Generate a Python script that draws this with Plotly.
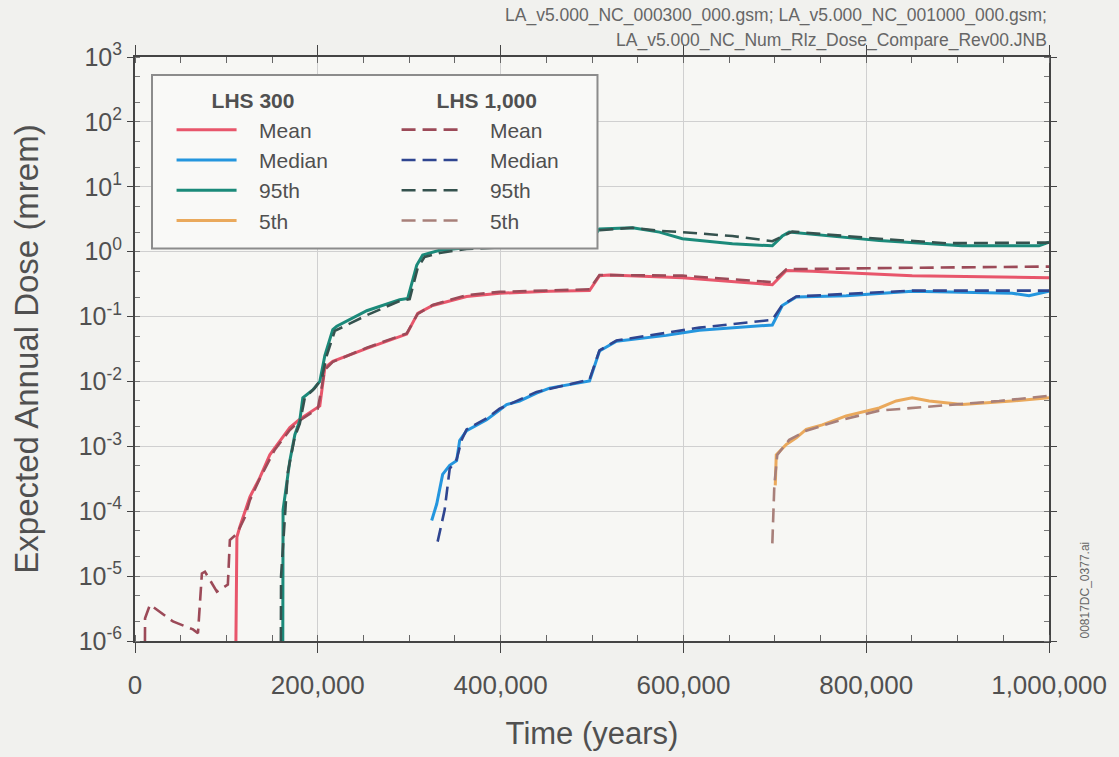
import plotly.graph_objects as go

# ---------------- data ----------------
t_mean_300 = [110400, 111500, 114800, 125700, 136600, 147500, 153000, 169400, 180300, 200000, 202200,
              207700, 216400, 253600, 297300, 309300, 325700, 362800, 398900, 453600, 497300, 508200,
              519100, 598900, 697300, 712600, 741000, 850300, 1000000]
v_mean_300 = [1e-6, 4.0e-5, 5.8e-5, 1.66e-4, 3.3e-4, 7.4e-4, 9.5e-4, 1.95e-3, 2.63e-3, 3.98e-3, 4.2e-3,
              0.0162, 0.0204, 0.0324, 0.0537, 0.112, 0.148, 0.204, 0.229, 0.245, 0.251, 0.427,
              0.437, 0.398, 0.309, 0.513, 0.50, 0.427, 0.398]

t_median_300 = [324600, 330100, 336600, 344300, 351900, 355200, 362800, 373800, 384700, 398900, 406600,
                420800, 439300, 453600, 497300, 508200, 526800, 581400, 617500, 697300, 708200, 723500,
                778100, 850300, 959600, 978100, 1000000]
v_median_300 = [7.2e-5, 1.29e-4, 3.7e-4, 5.1e-4, 6.0e-4, 1.23e-3, 1.74e-3, 2.14e-3, 2.57e-3, 3.63e-3, 4.4e-3,
                5.0e-3, 6.6e-3, 7.9e-3, 0.0102, 0.0295, 0.0417, 0.0513, 0.0617, 0.0741, 0.148, 0.20,
                0.209, 0.245, 0.229, 0.209, 0.245]

t_p95_300 = [161700, 162000, 169400, 174900, 180300, 183600, 194500, 202200, 207700, 216400, 220800,
             253600, 289600, 298400, 308200, 314800, 333300, 362800, 497300, 508200, 544300, 573800,
             598900, 653600, 697300, 708200, 715800, 741000, 814200, 904900, 989100, 1000000]
v_p95_300 = [1e-6, 1.05e-4, 6.0e-4, 1.51e-3, 2.5e-3, 5.6e-3, 7.4e-3, 0.010, 0.025, 0.063, 0.0708,
             0.123, 0.182, 0.19, 0.617, 0.89, 1.05, 1.15, 1.38, 2.24, 2.34, 2.0,
             1.58, 1.32, 1.23, 1.74, 2.0, 1.86, 1.48, 1.23, 1.23, 1.40]

t_p5_300 = [700500, 701600, 712600, 723500, 734400, 751900, 778100, 814200, 832800, 850300, 868900,
            904900, 959600, 1000000]
v_p5_300 = [2.5e-4, 7.4e-4, 1.07e-3, 1.35e-3, 1.82e-3, 2.14e-3, 2.95e-3, 3.9e-3, 5.0e-3, 5.6e-3, 5.0e-3,
            4.4e-3, 5.0e-3, 5.6e-3]

t_mean_1000 = [10900, 11000, 16400, 30600, 41500, 63400, 68900, 73200, 76500, 89600, 101600, 103800,
               111500, 120200, 125700, 136600, 153000, 169400, 180300, 200000, 207700, 216400, 253600,
               297300, 309300, 325700, 362800, 398900, 497300, 508200, 598900, 697300, 712600, 836000,
               1000000]
v_mean_1000 = [1e-6, 2.24e-6, 3.63e-6, 2.57e-6, 2.0e-6, 1.51e-6, 1.32e-6, 1.10e-5, 1.17e-5, 5.75e-6, 7.4e-6, 3.6e-5,
               4.5e-5, 8.1e-5, 1.48e-4, 3.2e-4, 8.9e-4, 1.78e-3, 2.5e-3, 3.8e-3, 0.0151, 0.020, 0.0331,
               0.055, 0.110, 0.151, 0.214, 0.24, 0.263, 0.437, 0.427, 0.339, 0.537, 0.562,
               0.589]

t_median_1000 = [331100, 338800, 344300, 351900, 357400, 362800, 384700, 398900, 439300, 497300, 508200,
                 526800, 617500, 697300, 708200, 723500, 850300, 1000000]
v_median_1000 = [3.4e-5, 1.05e-4, 4.5e-4, 6.3e-4, 1.26e-3, 1.82e-3, 2.7e-3, 3.8e-3, 6.9e-3, 0.0107, 0.030,
                 0.0427, 0.0676, 0.089, 0.151, 0.204, 0.251, 0.251]

t_p95_1000 = [159600, 159800, 167200, 174900, 180300, 185800, 196700, 204400, 209800, 218600, 253600,
              289600, 300500, 309300, 316900, 333300, 362800, 497300, 508200, 544300, 573800, 598900,
              653600, 697300, 719100, 814200, 887400, 1000000]
v_p95_1000 = [1e-6, 1.0e-5, 4.0e-4, 1.41e-3, 2.24e-3, 5.6e-3, 7.9e-3, 0.0112, 0.025, 0.060, 0.105,
              0.174, 0.186, 0.562, 0.83, 0.955, 1.10, 1.32, 2.14, 2.34, 2.09, 2.0,
              1.74, 1.45, 2.04, 1.58, 1.35, 1.38]

t_p5_1000 = [697300, 699500, 702700, 715800, 734400, 770500, 814200, 887400, 945400, 1000000]
v_p5_1000 = [3.2e-5, 2.5e-4, 7.4e-4, 1.26e-3, 1.74e-3, 2.5e-3, 3.55e-3, 4.3e-3, 5.0e-3, 6.0e-3]

stat_names = ["Mean", "Median", "95th", "5th"]
group_names = ["LHS 300", "LHS 1,000"]
y_tick_vals = [1e-6, 1e-5, 1e-4, 1e-3, 1e-2, 1e-1, 1e0, 1e1, 1e2, 1e3]
y_tick_text = ["10<sup>-6</sup>", "10<sup>-5</sup>", "10<sup>-4</sup>", "10<sup>-3</sup>", "10<sup>-2</sup>",
               "10<sup>-1</sup>", "10<sup>0</sup>", "10<sup>1</sup>", "10<sup>2</sup>", "10<sup>3</sup>"]
x_tick_vals = [0, 200000, 400000, 600000, 800000, 1000000]
x_tick_text = ["0", "200,000", "400,000", "600,000", "800,000", "1,000,000"]

# ---------------- styling ----------------
FONT = "Liberation Sans, Arial, sans-serif"
TXT = "#505050"
NB = "\u00a0"
colors_300 = ["#e8566b", "#2496de", "#1b8a7a", "#eaa95c"]
colors_1000 = ["#9c4a58", "#2f4590", "#35524e", "#a8807a"]

series_300 = [(t_mean_300, v_mean_300), (t_median_300, v_median_300), (t_p95_300, v_p95_300), (t_p5_300, v_p5_300)]
series_1000 = [(t_mean_1000, v_mean_1000), (t_median_1000, v_median_1000), (t_p95_1000, v_p95_1000), (t_p5_1000, v_p5_1000)]

LEG_FS = 21
fig = go.Figure()
for i, (t, v) in enumerate(series_300):
    fig.add_trace(go.Scatter(
        x=t, y=v, mode="lines", name=NB * 3 + stat_names[i],
        line=dict(color=colors_300[i], width=3),
        legendgroup="g300",
        legendgrouptitle=dict(text=NB * 6 + "<b>" + group_names[0] + "</b>",
                              font=dict(size=LEG_FS, color=TXT, family=FONT)),
    ))
for i, (t, v) in enumerate(series_1000):
    fig.add_trace(go.Scatter(
        x=t, y=v, mode="lines", name=NB * 4 + stat_names[i],
        line=dict(color=colors_1000[i], width=2.6, dash="14px,7px"),
        legendgroup="g1000",
        legendgrouptitle=dict(text=NB * 6 + "<b>" + group_names[1] + "</b>",
                              font=dict(size=LEG_FS, color=TXT, family=FONT)),
    ))

fig.update_layout(
    width=1119, height=757,
    margin=dict(l=135, r=69, t=57, b=112),
    paper_bgcolor="#f1f1ee",
    plot_bgcolor="#f7f7f4",
    font=dict(family=FONT, color=TXT, size=20),
    legend=dict(
        orientation="h", traceorder="grouped",
        x=0.04, y=0.962, xanchor="left", yanchor="top",
        bgcolor="rgba(0,0,0,0)", borderwidth=0,
        font=dict(size=LEG_FS, color=TXT, family=FONT),
        itemwidth=60, entrywidth=150,
    ),
    xaxis=dict(
        range=[0, 1000000], tickvals=x_tick_vals, ticktext=x_tick_text,
        showgrid=True, gridcolor="#d0d0d0", gridwidth=1, zeroline=False,
        showline=True, linecolor="#444444", linewidth=2, mirror="ticks",
        ticks="outside", ticklen=10, tickcolor="#444444", tickwidth=1,
        ticklabelstandoff=10,
        minor=dict(dtick=50000, ticks="inside", ticklen=6, tickcolor="#666666", showgrid=False),
        tickfont=dict(size=26, color=TXT),
        title=dict(text="Time (years)", font=dict(size=31, color=TXT), standoff=23),
    ),
    yaxis=dict(
        type="log", range=[-6, 3], tickvals=y_tick_vals, ticktext=y_tick_text,
        showgrid=True, gridcolor="#d0d0d0", gridwidth=1, zeroline=False,
        showline=True, linecolor="#444444", linewidth=2, mirror="ticks",
        ticks="outside", ticklen=6, tickcolor="#444444", tickwidth=1,
        minor=dict(ticks="inside", ticklen=5, tickcolor="#777777", showgrid=False),
        tickfont=dict(size=25, color=TXT),
        title=dict(text="Expected Annual Dose (mrem)", font=dict(size=33, color=TXT), standoff=30),
    ),
)

# opaque legend frame (sits over the curves, under the legend entries)
fig.add_shape(type="rect", xref="paper", yref="paper", x0=0.0186, x1=0.506, y0=0.672, y1=0.969,
              layer="above", fillcolor="#f9f9f7", line=dict(color="#8c8c8c", width=2))

fig.add_annotation(text="LA_v5.000_NC_000300_000.gsm; LA_v5.000_NC_001000_000.gsm;",
                   xref="paper", yref="paper", x=1.0, y=1.0, xanchor="right", yanchor="bottom", yshift=29,
                   showarrow=False, font=dict(size=17.5, color="#666666"))
fig.add_annotation(text="LA_v5.000_NC_Num_Rlz_Dose_Compare_Rev00.JNB",
                   xref="paper", yref="paper", x=1.0, y=1.0, xanchor="right", yanchor="bottom", yshift=4,
                   showarrow=False, font=dict(size=17.5, color="#666666"))
fig.add_annotation(text="00817DC_0377.ai", xref="paper", yref="paper", x=1.0, y=0.0,
                   xanchor="left", yanchor="bottom", xshift=26, textangle=-90,
                   showarrow=False, font=dict(size=12, color="#666666"))

fig.write_html("out.html", config={"displayModeBar": False},
               post_script="document.body.style.margin='0';")
